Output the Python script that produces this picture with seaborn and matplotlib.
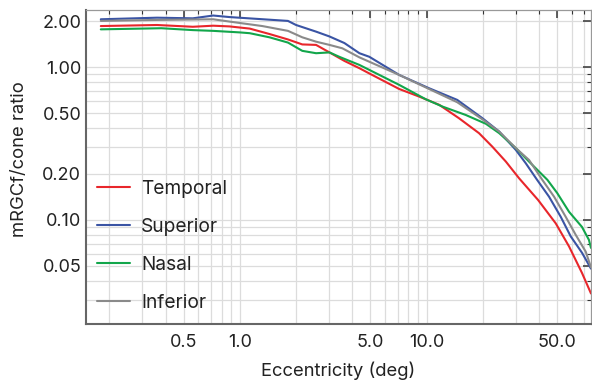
import numpy as np
import pandas as pd
import matplotlib
matplotlib.use("Agg")
import matplotlib.pyplot as plt
import seaborn as sns
from matplotlib.ticker import FixedLocator, NullFormatter
from matplotlib.lines import Line2D

# ---- data ----
temporal_x = [0.18, 0.36, 0.56, 0.72, 0.88, 1.13, 1.44, 1.81, 2.16, 2.56, 3.02, 3.63, 4.37, 4.94,
              7.14, 9.14, 11.7, 14.9, 19.1, 22.5, 26.6, 31.3, 39.6, 49.2, 58, 68, 76]
temporal_y = [1.86, 1.89, 1.84, 1.87, 1.85, 1.79, 1.65, 1.52, 1.41, 1.40, 1.25, 1.10, 0.985, 0.91,
              0.72, 0.642, 0.567, 0.464, 0.370, 0.302, 0.241, 0.1875, 0.135, 0.095, 0.067, 0.045, 0.033]

superior_x = [0.18, 0.36, 0.56, 0.72, 0.88, 1.81, 2.0, 2.56, 3.02, 3.63, 4.37, 4.94, 7.14, 10.3, 14.6,
              19.9, 24.5, 30.1, 34.0, 39.1, 45.3, 52.3, 59.2, 68, 76]
superior_y = [2.06, 2.11, 2.09, 2.18, 2.13, 2.01, 1.89, 1.71, 1.59, 1.44, 1.235, 1.17, 0.89, 0.729, 0.611,
              0.464, 0.379, 0.287, 0.235, 0.183, 0.142, 0.105, 0.078, 0.061, 0.048]

nasal_x = [0.18, 0.38, 0.56, 0.72, 1.0, 1.13, 1.44, 1.81, 2.16, 2.56, 3.02, 3.41, 4.37, 7.14, 9.9,
           12.2, 16.2, 20.8, 24.5, 30.1, 35.4, 44.4, 50.1, 58, 68, 74.1, 76]
nasal_y = [1.77, 1.80, 1.75, 1.73, 1.69, 1.67, 1.57, 1.45, 1.28, 1.235, 1.25, 1.17, 1.035, 0.766, 0.617,
           0.552, 0.487, 0.426, 0.370, 0.295, 0.241, 0.183, 0.150, 0.113, 0.090, 0.074, 0.0656]

inferior_x = [0.18, 0.36, 0.72, 0.88, 1.32, 1.81, 2.16, 2.56, 3.02, 3.54, 4.37, 7.14, 10.3, 14.6,
              19.9, 24.5, 30.1, 35.4, 41.7, 48.2, 55.6, 62.9, 71.2, 76]
inferior_y = [2.01, 2.04, 2.06, 1.99, 1.86, 1.73, 1.57, 1.47, 1.40, 1.33, 1.16, 0.89, 0.721, 0.590,
              0.456, 0.379, 0.295, 0.247, 0.183, 0.142, 0.105, 0.080, 0.062, 0.049]

series_names = ["Temporal", "Superior", "Nasal", "Inferior"]
series_colors = ["#e8262b", "#3a54a4", "#12a64b", "#8a8a8a"]

x_ticks = [0.5, 1.0, 5.0, 10.0, 50.0]
x_tick_labels = ["0.5", "1.0", "5.0", "10.0", "50.0"]
y_ticks = [0.05, 0.10, 0.20, 0.50, 1.00, 2.00]
y_tick_labels = ["0.05", "0.10", "0.20", "0.50", "1.00", "2.00"]

frames = []
for name, xs, ys in zip(series_names,
                        [temporal_x, superior_x, nasal_x, inferior_x],
                        [temporal_y, superior_y, nasal_y, inferior_y]):
    frames.append(pd.DataFrame({"ecc": xs, "ratio": ys, "region": name}))
df = pd.concat(frames, ignore_index=True)

sns.set_style("white")
plt.rcParams["font.family"] = ["Inter", "DejaVu Sans"]

fig = plt.figure(figsize=(5.92, 3.84), dpi=100)
ax = fig.add_axes([0.1453, 0.156, 0.8530, 0.818])

sns.lineplot(data=df, x="ecc", y="ratio", hue="region", hue_order=series_names,
             palette=series_colors, estimator=None, sort=False, linewidth=1.5, ax=ax, legend=False)

ax.set_xscale("log")
ax.set_yscale("log")
ax.set_xlim(0.15, 76)
ax.set_ylim(0.0208, 2.37)

ax.xaxis.set_major_locator(FixedLocator(x_ticks))
ax.set_xticklabels(x_tick_labels)
ax.yaxis.set_major_locator(FixedLocator(y_ticks))
ax.set_yticklabels(y_tick_labels)

xminor = [v * 10.0 ** d for d in range(-1, 2) for v in range(1, 10)]
xminor = [v for v in xminor if all(abs(v - t) > 1e-9 for t in x_ticks)]
yminor = [v * 10.0 ** d for d in range(-2, 1) for v in range(1, 10)]
yminor = [v for v in yminor if all(abs(v - t) > 1e-9 for t in y_ticks)]
ax.xaxis.set_minor_locator(FixedLocator(xminor))
ax.yaxis.set_minor_locator(FixedLocator(yminor))
ax.xaxis.set_minor_formatter(NullFormatter())
ax.yaxis.set_minor_formatter(NullFormatter())

ax.grid(True, which="both", color="#dcdcdc", linewidth=0.9)
ax.set_axisbelow(True)

ax.tick_params(which="both", direction="in", top=True, right=True, colors="#333333",
               labelcolor="#222222", labelsize=13)
ax.tick_params(which="major", length=6, width=1.1)
ax.tick_params(which="minor", length=3, width=0.8)
ax.tick_params(axis="x", pad=7)

for side in ["left", "bottom"]:
    ax.spines[side].set_color("#666666")
    ax.spines[side].set_linewidth(1.5)
for side in ["top", "right"]:
    ax.spines[side].set_color("#999999")
    ax.spines[side].set_linewidth(0.9)

ax.set_xlabel("Eccentricity (deg)", fontsize=13.3, color="#222222", labelpad=8)
ax.set_ylabel("mRGCf/cone ratio", fontsize=13.3, color="#222222", labelpad=8)
ax.yaxis.set_label_coords(-0.115, 0.525)

handles = [Line2D([], [], color=c, linewidth=1.5) for c in series_colors]
leg = ax.legend(handles, series_names, loc="upper left", bbox_to_anchor=(-0.012, 0.515),
                frameon=False, fontsize=13.8, handlelength=1.7, handletextpad=0.6,
                labelspacing=1.05, borderaxespad=0.5)
for t in leg.get_texts():
    t.set_color("#222222")

fig.savefig("out.png", dpi=100)
